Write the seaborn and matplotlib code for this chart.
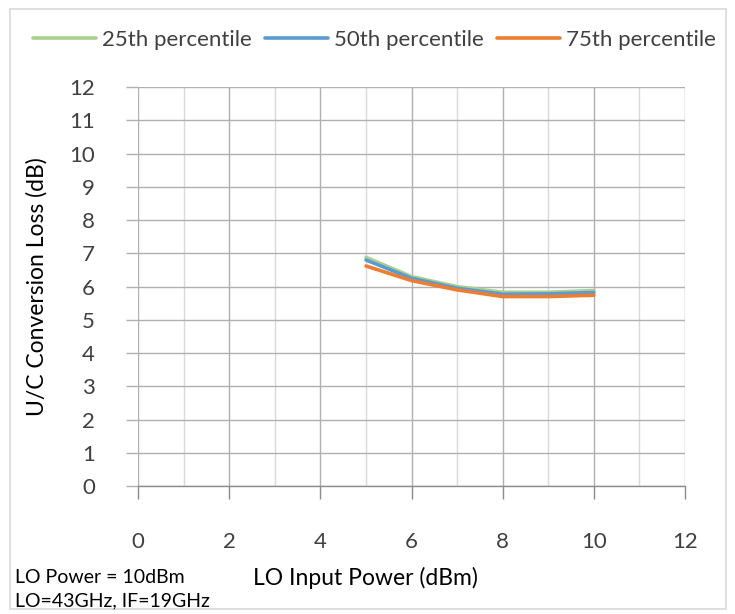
import matplotlib
matplotlib.use("Agg")
import matplotlib.pyplot as plt
import seaborn as sns
import pandas as pd
from matplotlib.patches import Rectangle

lo_power = [5, 6, 7, 8, 9, 10]
p25 = [6.88, 6.30, 6.00, 5.83, 5.83, 5.88]
p50 = [6.80, 6.25, 5.95, 5.77, 5.78, 5.82]
p75 = [6.62, 6.18, 5.90, 5.70, 5.70, 5.74]
series_names = ["25th percentile", "50th percentile", "75th percentile"]
colors = ["#A9D18E", "#5B9BD5", "#ED7D31"]

df = pd.concat([
    pd.DataFrame({"x": lo_power, "y": vals, "series": name})
    for name, vals in zip(series_names, [p25, p50, p75])
])

sns.set_theme(style="white")
plt.rcParams["font.family"] = ["Lato", "DejaVu Sans"]
text_color = "#404040"

fig = plt.figure(figsize=(7.35, 6.14), dpi=100)
ax = fig.add_axes([0.188, 0.2085, 0.744, 0.6495])

sns.lineplot(data=df, x="x", y="y", hue="series", palette=colors,
             hue_order=series_names, linewidth=2.6, ax=ax, legend=True)

ax.set_xlim(0, 12)
ax.set_ylim(0, 12)
ax.set_xticks(range(0, 13, 2))
ax.set_xticks(range(1, 12, 2), minor=True)
ax.set_yticks(range(0, 13))
ax.grid(which="major", color="#b0b0b0", linewidth=1.0)
ax.grid(which="minor", axis="x", color="#d9d9d9", linewidth=1.0)
ax.set_axisbelow(True)
for s in ["top", "right", "left"]:
    ax.spines[s].set_visible(False)
ax.spines["bottom"].set_color("#8c8c8c")
ax.spines["bottom"].set_linewidth(1.0)
ax.tick_params(axis="x", which="major", direction="out", length=9, width=1,
               color="#8c8c8c", pad=24, labelsize=16, labelcolor=text_color, bottom=True)
ax.tick_params(axis="x", which="minor", length=0)
ax.tick_params(axis="y", which="major", direction="out", length=9, width=1,
               color="#b0b0b0", pad=22, labelsize=16, labelcolor=text_color, left=True)

ax.set_xlabel("")
ax.set_ylabel("U/C Conversion Loss (dB)", fontsize=16.5, color="#000000", labelpad=16)

handles, labels = ax.get_legend_handles_labels()
ax.legend(handles, labels, loc="center", bbox_to_anchor=(0.51, 0.935),
          bbox_transform=fig.transFigure, ncol=3, frameon=False, fontsize=16,
          handlelength=2.8, handletextpad=0.3, columnspacing=0.6, labelcolor=text_color)

fig.text(0.497, 0.058, "LO Input Power (dBm)", ha="center", va="center", fontsize=16.5, color="#000000")
fig.text(0.02, 0.06, "LO Power = 10dBm", ha="left", va="center", fontsize=14, color="#000000")
fig.text(0.02, 0.022, "LO=43GHz, IF=19GHz", ha="left", va="center", fontsize=14, color="#000000")

fig.patches.append(Rectangle((0.013, 0.008), 0.975, 0.978, transform=fig.transFigure,
                             fill=False, edgecolor="#d9d9d9", linewidth=1.2))

fig.savefig("out.png", dpi=100, facecolor="white")
